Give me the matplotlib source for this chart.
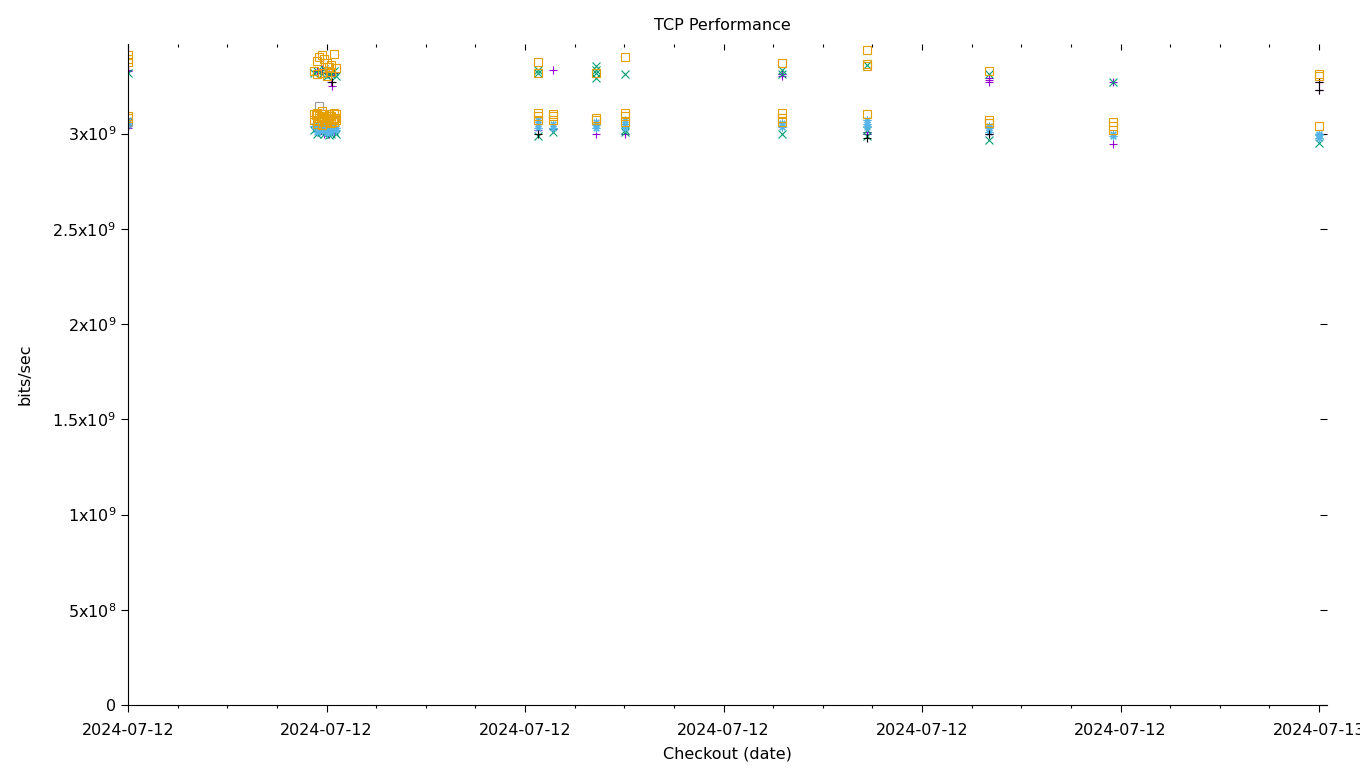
import datetime as dt
import matplotlib
matplotlib.use("Agg")
import matplotlib.pyplot as plt
import matplotlib.dates as mdates
from matplotlib.ticker import FixedLocator, FuncFormatter

plt.rcParams['font.family'] = ['DejaVu Sans']
plt.rcParams['mathtext.default'] = 'regular'

start = dt.datetime(2024, 7, 12, 0, 0)

# hours after start, values in units of 1e9 bits/sec
purple_h = [0, 0, 0, 3.8, 3.9, 4.0, 4.05, 4.1, 4.15, 4.1, 4.12, 3.85, 3.95, 4.05, 4.15,
            8.27, 8.57, 8.57, 9.43, 10.02, 13.18, 13.18, 14.9, 14.9, 17.34, 17.34, 17.34,
            17.34, 19.85, 19.85, 24, 24, 24]
purple_v = [3.336, 3.326, 3.03, 3.33, 3.34, 3.32, 3.31, 3.305, 3.32, 3.268, 3.252, 3.01,
            3.0, 2.995, 3.005, 3.02, 3.336, 3.025, 3.0, 2.995, 3.31, 3.30, 3.0, 3.01,
            3.294, 3.28, 3.268, 3.0, 3.268, 2.947, 3.27, 3.226, 3.0]

green_h = [0, 0, 3.75, 3.8, 3.9, 3.95, 4.0, 4.05, 4.1, 4.15, 4.2, 3.75, 3.8, 3.9, 3.95,
           4.0, 4.05, 4.1, 4.15, 4.2, 8.27, 8.27, 8.27, 8.57, 9.43, 9.43, 9.43, 9.43,
           10.02, 10.02, 10.02, 13.18, 13.18, 13.18, 14.9, 14.9, 14.9, 17.34, 17.34,
           19.85, 24]
green_v = [3.32, 3.06, 3.32, 3.33, 3.31, 3.34, 3.3, 3.32, 3.31, 3.33, 3.3, 3.02, 3.0,
           3.01, 2.995, 3.03, 2.99, 3.0, 3.015, 2.995, 3.336, 3.32, 2.985, 3.01, 3.352,
           3.336, 3.32, 3.294, 3.31, 3.02, 3.01, 3.336, 3.31, 3.0, 3.36, 3.02, 2.985,
           3.31, 2.968, 3.268, 2.95]

blue_h = [0, 0, 0, 3.75, 3.8, 3.85, 3.9, 3.95, 4.0, 4.05, 4.1, 4.15, 4.2, 3.8, 3.9,
          4.0, 4.1, 4.2, 8.27, 8.27, 8.27, 8.57, 8.57, 9.43, 9.43, 9.43, 10.02, 10.02,
          10.02, 13.18, 13.18, 14.9, 14.9, 14.9, 17.34, 17.34, 17.34, 19.85, 19.85,
          24, 24, 24]
blue_v = [3.07, 3.06, 3.045, 3.04, 3.05, 3.03, 3.02, 3.035, 3.045, 3.025, 3.04, 3.03,
          3.02, 3.01, 3.015, 3.005, 3.01, 3.03, 3.07, 3.05, 3.03, 3.05, 3.03, 3.06,
          3.045, 3.03, 3.07, 3.05, 3.03, 3.053, 3.035, 3.07, 3.05, 3.035, 3.042, 3.03,
          3.01, 3.0, 2.985, 3.0, 2.99, 2.975]

orange_h = [0, 0, 0, 0, 0, 3.75, 3.8, 3.85, 3.9, 3.95, 4.0, 4.05, 4.1, 4.15, 4.2, 3.8,
            3.9, 4.0, 4.1, 3.75, 3.8, 3.85, 3.9, 3.95, 4.0, 4.05, 4.1, 4.15, 4.2, 3.75,
            3.85, 3.95, 4.05, 4.15, 3.8, 3.9, 4.0, 4.1, 4.2,
            3.78, 3.88, 3.98, 4.08, 4.18, 3.83, 3.93, 4.03, 4.13,
            8.27, 8.27, 8.27, 8.27, 8.27, 8.57, 8.57, 8.57, 9.43, 9.43, 9.43, 10.02,
            10.02, 10.02, 10.02, 13.18, 13.18, 13.18, 13.18, 14.9, 14.9, 14.9, 14.9,
            17.34, 17.34, 17.34, 19.85, 19.85, 19.85, 24, 24, 24]
orange_v = [3.41, 3.39, 3.375, 3.09, 3.08, 3.33, 3.38, 3.4, 3.41, 3.39, 3.37, 3.35, 3.36,
            3.42, 3.345, 3.315, 3.32, 3.3, 3.325, 3.1, 3.11, 3.09, 3.12, 3.1, 3.08, 3.105,
            3.09, 3.11, 3.1, 3.07, 3.08, 3.06, 3.075, 3.06, 3.05, 3.045, 3.06, 3.055, 3.07,
            3.095, 3.085, 3.07, 3.09, 3.08, 3.065, 3.1, 3.09, 3.075,
            3.373, 3.32, 3.11, 3.09, 3.07, 3.105, 3.09, 3.07, 3.32, 3.084, 3.07, 3.40,
            3.11, 3.09, 3.063, 3.368, 3.11, 3.084, 3.063, 3.436, 3.365, 3.355, 3.105,
            3.326, 3.07, 3.053, 3.063, 3.037, 3.02, 3.315, 3.30, 3.037]

black_h = [0, 4.12, 8.27, 14.9, 17.34, 24, 24]
black_v = [3.04, 3.268, 3.0, 2.978, 3.0, 3.268, 3.226]

gray_h = [0, 3.85, 13.18, 17.34]
gray_v = [3.06, 3.147, 3.368, 3.053]

series = [
    (purple_h, purple_v, '#9400d3', '+'),
    (green_h, green_v, '#009e73', 'x'),
    (blue_h, blue_v, '#56b4e9', (8, 2, 0)),
    (black_h, black_v, '#000000', '+'),
    (gray_h, gray_v, '#999999', 's'),
    (orange_h, orange_v, '#e69f00', 's'),
]

fig = plt.figure(figsize=(13.6, 7.68), dpi=100)
ax = fig.add_axes([128 / 1360, 63 / 768, (1327 - 128) / 1360, (705 - 44) / 768])

for hrs, vals, col, mk in series:
    xs = [start + dt.timedelta(hours=h) for h in hrs]
    ys = [v * 1e9 for v in vals]
    if mk == 's':
        ax.plot(xs, ys, linestyle='none', marker=mk, markersize=5.3,
                markerfacecolor='none', markeredgecolor=col, markeredgewidth=0.8)
    else:
        ax.plot(xs, ys, linestyle='none', marker=mk, markersize=5.6,
                color=col, markeredgewidth=0.8)

ax.set_xlim(start, start + dt.timedelta(hours=24.16))
ax.set_ylim(0, 3.47e9)

ax.xaxis.set_major_locator(mdates.HourLocator(byhour=range(0, 24, 4)))
ax.xaxis.set_minor_locator(mdates.HourLocator(byhour=range(24)))
ax.xaxis.set_major_formatter(mdates.DateFormatter('%Y-%m-%d'))

yticks = [0, 5e8, 1e9, 1.5e9, 2e9, 2.5e9, 3e9]


def sci(v, pos):
    if v == 0:
        return '0'
    e = 0
    m = v
    while m >= 10:
        m /= 10
        e += 1
    return '%gx10$^{%d}$' % (m, e)


ax.yaxis.set_major_locator(FixedLocator(yticks))
ax.yaxis.set_major_formatter(FuncFormatter(sci))

ax.spines['top'].set_visible(False)
ax.spines['right'].set_visible(False)
ax.tick_params(which='major', direction='out', length=5, width=0.8, labelsize=11.5)
ax.tick_params(which='minor', direction='out', length=2.3, width=0.8)
ax.tick_params(axis='x', pad=8)

top = ax.secondary_xaxis('top')
top.xaxis.set_major_locator(mdates.HourLocator(byhour=range(0, 24, 4)))
top.xaxis.set_minor_locator(mdates.HourLocator(byhour=range(24)))
top.tick_params(which='major', direction='in', length=4.5, width=0.8, labeltop=False)
top.tick_params(which='minor', direction='in', length=2.3, width=0.8)
top.spines['top'].set_visible(False)

right = ax.secondary_yaxis('right')
right.yaxis.set_major_locator(FixedLocator(yticks))
right.tick_params(direction='in', length=5, width=0.8, labelright=False)
right.spines['right'].set_visible(False)

fig.text(0.531, 0.967, 'TCP Performance', fontsize=11.5, ha='center', va='center')
ax.set_xlabel('Checkout (date)', fontsize=11.5, labelpad=6)
ax.set_ylabel('bits/sec', fontsize=11.5, labelpad=14)

fig.savefig('out.png', dpi=100)
